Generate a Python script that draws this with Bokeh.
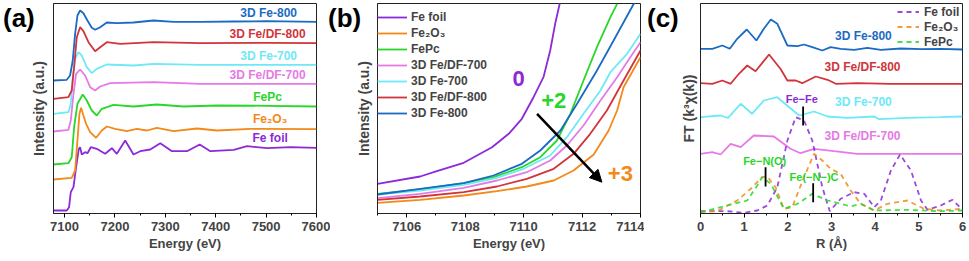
from bokeh.plotting import figure
from bokeh.models import (ColumnDataSource, Arrow, NormalHead, FixedTicker,
                          SingleIntervalTicker, Range1d, Div)
from bokeh.layouts import row
from bokeh.embed import file_html
from bokeh.resources import INLINE
from bokeh.core.properties import value

FONT = "Liberation Sans"

C_FOIL = "#8B2AD6"
C_FE2O3 = "#F2891A"
C_FEPC = "#2AD62A"
C_DF700 = "#E57AE6"
C_FE700 = "#6EE9F5"
C_DF800 = "#D1343A"
C_FE800 = "#1A6BC4"

# ---------------- panel (a): XANES, stacked ----------------
a_fe800_E = [7078, 7104.3, 7110.9, 7116.2, 7120.9, 7125.5, 7130.8, 7137.4, 7145.4, 7154.0, 7160.6, 7170.6, 7183.8, 7203.7, 7236.8, 7276.6, 7316.4, 7369.4, 7435.7, 7501.9, 7600]
a_fe800_I = [133, 133.7, 138, 153, 179.7, 198, 203, 200.3, 193, 185.7, 183.7, 186.3, 191, 190.3, 191, 193, 191.7, 191.7, 192, 192.3, 191.7]
a_df800_E = [7078, 7107.6, 7114.2, 7118.9, 7124.2, 7130.8, 7137.4, 7147.4, 7160.6, 7170.6, 7183.8, 7210.3, 7276.6, 7369.4, 7501.9, 7600]
a_df800_I = [114.7, 116.3, 123, 146.3, 176.3, 186.3, 182.3, 171.3, 162.3, 166.3, 171.3, 169.7, 171.3, 170.3, 170.7, 170.3]
a_fe700_E = [7078, 7107.6, 7112.3, 7116.2, 7120.9, 7127.5, 7134.1, 7144.1, 7154.0, 7163.9, 7183.8, 7236.8, 7276.6, 7369.4, 7600]
a_fe700_I = [99.7, 101.3, 109.7, 136.3, 154.7, 161.3, 158, 146.3, 140.3, 144.7, 149, 148, 149.7, 148.7, 148.7]
a_df700_E = [7078, 7107.6, 7112.3, 7117.6, 7122.9, 7130.8, 7140.8, 7150.7, 7160.6, 7170.6, 7190.5, 7276.6, 7369.4, 7600]
a_df700_I = [82, 83.7, 93, 119.7, 139.7, 144, 138, 126.3, 123, 127, 130.3, 131.3, 129.7, 129.7]
a_fepc_E = [7078, 7107.6, 7114.2, 7118.9, 7125.5, 7136.1, 7144.1, 7154.0, 7163.9, 7173.9, 7197.1, 7236.8, 7283.2, 7336.3, 7402.5, 7501.9, 7600]
a_fepc_I = [49, 50.3, 56.3, 86.3, 109.7, 119, 113, 103, 98, 104.7, 108.7, 107, 109, 107, 108, 107.7, 107]
a_fe2o3_E = [7078, 7114.2, 7120.9, 7125.5, 7129.5, 7132.8, 7137.4, 7142.7, 7150.7, 7162.6, 7173.9, 7183.8, 7200.4, 7223.6, 7243.5, 7263.4, 7283.2, 7316.4, 7362.8, 7402.5, 7468.8, 7600]
a_fe2o3_I = [34, 35.7, 43, 73, 99.7, 105.7, 98, 89.7, 81.3, 75.7, 83, 87, 84.7, 82.3, 84.7, 83, 85.7, 82.3, 85, 83, 84.7, 84.3]
a_foil_E = [7078, 7104.3, 7108.9, 7112.3, 7117.6, 7122.9, 7128.2, 7130.8, 7134.1, 7140.8, 7145.4, 7152.0, 7163.9, 7180.5, 7193.8, 7203.7, 7220.3, 7236.8, 7250.1, 7270.0, 7289.9, 7313.1, 7342.9, 7368.1, 7389.3, 7435.7, 7462.2, 7501.9, 7548.3, 7600]
a_foil_I = [3, 3, 6.3, 21.3, 26.3, 46.3, 64.7, 66.3, 59, 61.3, 60.3, 66.3, 64.7, 59.7, 65.3, 59.7, 73, 59, 62.3, 64, 70.3, 62.3, 62.3, 69, 62.3, 63.7, 67.3, 65.3, 66.3, 65.7]
a_label_text = ["3D Fe-800", "3D Fe/DF-800", "3D Fe-700", "3D Fe/DF-700", "FePc", "Fe\u2082O\u2083", "Fe foil"]
a_label_x = [7505, 7503, 7505, 7503, 7503, 7508, 7508]
a_label_y = [200.3, 179.7, 158, 139, 116.3, 94.7, 75.7]
a_label_color = [C_FE800, C_DF800, C_FE700, C_DF700, C_FEPC, C_FE2O3, C_FOIL]
a_ticks = [7100, 7200, 7300, 7400, 7500, 7600]

# ---------------- panel (b): edge zoom ----------------
b_foil_E = [7105, 7106.46, 7107.03, 7107.95, 7108.92, 7109.49, 7109.94, 7110.34, 7110.68, 7110.91, 7111.08, 7111.26]
b_foil_I = [29.7, 37, 42.3, 50.7, 66.3, 79.7, 94.7, 116.3, 136.3, 163, 189.7, 213]
b_fe2o3_E = [7105, 7106.46, 7107.95, 7109.09, 7110.11, 7111.03, 7111.71, 7112.40, 7112.91, 7113.20, 7113.42, 7113.71, 7114]
b_fe2o3_I = [10.7, 13.7, 18, 22.3, 27, 33, 43, 59, 83, 103, 126.3, 141.3, 156.3]
b_fepc_E = [7105, 7106.46, 7107.95, 7108.97, 7109.94, 7110.57, 7111.14, 7111.60, 7112.05, 7112.51, 7112.97, 7113.20]
b_fepc_I = [19.7, 24, 30.3, 36.3, 46.3, 56.3, 73, 99.7, 133, 166.3, 196.3, 209.7]
b_df700_E = [7105, 7106.46, 7107.95, 7109.09, 7110.11, 7110.91, 7111.48, 7112.05, 7112.63, 7113.20, 7113.65, 7114]
b_df700_I = [15.3, 19.7, 25.7, 33, 41.3, 53, 68, 88, 113, 136.3, 156.3, 171.3]
b_fe700_E = [7105, 7106.46, 7107.95, 7109.09, 7110.00, 7110.91, 7111.48, 7112.05, 7112.63, 7112.97, 7113.54, 7114]
b_fe700_I = [19, 23, 28.7, 35.7, 44.7, 58, 76.3, 99.7, 123, 141.3, 159.7, 179.7]
b_df800_E = [7105, 7106.46, 7107.95, 7109.09, 7110.11, 7111.03, 7111.71, 7112.28, 7112.85, 7113.42, 7114]
b_df800_I = [13.7, 17, 21.3, 27, 34.7, 44.7, 59.7, 79.7, 103, 133, 163]
b_fe800_E = [7105, 7106.46, 7107.95, 7108.97, 7109.94, 7110.57, 7111.26, 7111.83, 7112.51, 7113.08, 7113.77, 7113.9]
b_fe800_I = [19, 24.7, 30.3, 38, 49.7, 63, 83, 109.7, 143, 173, 209.7, 214]
b_ox_text = ["0", "+2", "+3"]
b_ox_x = [7109.83, 7111.03, 7113.31]
b_ox_y = [135, 113, 40]
b_ox_color = [C_FOIL, C_FEPC, C_FE2O3]
b_arrow_start = (7110.46, 99.7)
b_arrow_end = (7112.68, 31.3)
b_ticks = [7106, 7108, 7110, 7112, 7114]

# ---------------- panel (c): FT-EXAFS ----------------
c_fe800_R = [0, 0.27, 0.50, 0.67, 0.84, 1.06, 1.28, 1.45, 1.61, 1.76, 1.99, 2.22, 2.37, 2.56, 2.79, 2.98, 3.21, 3.52, 3.82, 4.13, 4.59, 5.05, 5.50, 6.0]
c_fe800_A = [164.7, 164.7, 168, 164.7, 174.7, 184, 173, 184.7, 194, 189.7, 168, 167.3, 169, 166.3, 163, 166.3, 164.7, 163.7, 165.7, 163.7, 165, 164.3, 164.7, 164]
c_df800_R = [0, 0.27, 0.50, 0.69, 0.88, 1.07, 1.26, 1.57, 1.83, 1.99, 2.18, 2.33, 2.64, 2.91, 3.10, 3.59, 4.36, 6.0]
c_df800_A = [130.3, 129.7, 133, 129.7, 139.7, 148, 142.3, 159, 144.7, 133, 133, 130.3, 137, 133.7, 129.7, 130.3, 129.7, 129.7]
c_fe700_R = [0, 0.46, 0.63, 0.92, 1.18, 1.45, 1.76, 2.03, 2.26, 2.60, 2.91, 3.36, 3.98, 4.09, 4.74, 5.50, 6.0]
c_fe700_A = [96.3, 98, 95.7, 109.7, 99.7, 113, 116.3, 106.3, 98, 102, 97, 95.7, 97, 94.3, 95.7, 96.3, 97]
c_df700_R = [0, 0.27, 0.46, 0.69, 0.92, 1.22, 1.68, 2.06, 2.29, 2.60, 3.06, 3.59, 4.74, 6.0]
c_df700_A = [59.7, 61.3, 59, 69.7, 66.3, 78, 77, 64.7, 60.3, 64.7, 62.3, 59.7, 59.7, 59.7]
c_foil_R = [0, 0.61, 0.99, 1.30, 1.53, 1.76, 1.99, 2.18, 2.37, 2.56, 2.79, 2.96, 3.21, 3.52, 3.75, 3.98, 4.13, 4.36, 4.57, 4.82, 5.05, 5.20, 5.50, 5.77, 6.0]
c_foil_A = [2.3, 2.3, 0.7, 3, 8, 26.3, 73, 96.3, 93, 73, 26.3, 2.3, 14.7, 21.3, 19.7, 6.3, 13, 43, 59, 43, 13, 3.7, 8, 13.7, 3.7]
c_fe2o3_R = [0, 0.38, 0.84, 1.15, 1.41, 1.53, 1.72, 1.91, 2.10, 2.37, 2.60, 2.79, 2.98, 3.21, 3.44, 3.67, 3.98, 4.28, 4.74, 5.12, 5.50, 6.0]
c_fe2o3_A = [1.3, 2.3, 13, 24.7, 36.3, 37, 26.3, 4.7, 6.3, 36.3, 59.7, 53, 44.7, 39.7, 23, 9.7, 3, 9.7, 13, 4.7, 3, 4.7]
c_fepc_R = [0, 0.61, 1.07, 1.30, 1.41, 1.61, 1.91, 2.22, 2.56, 2.91, 3.21, 3.44, 3.67, 3.98, 4.74, 5.50, 6.0]
c_fepc_A = [1.3, 8, 13, 28, 36.3, 29.7, 4.7, 9.7, 19.7, 13, 9.7, 7, 9.7, 3, 3.7, 2.3, 3]
c_label_text = ["3D Fe-800", "3D Fe/DF-800", "3D Fe-700", "3D Fe/DF-700"]
c_label_x = [3.73, 3.71, 3.73, 3.71]
c_label_y = [178, 146.3, 111.3, 78]
c_label_color = [C_FE800, C_DF800, C_FE700, C_DF700]
c_path_text = ["Fe\u2212Fe", "Fe\u2212N(O)", "Fe(\u2212N\u2212)C"]
c_path_x = [2.32, 1.47, 2.60]
c_path_y = [114.7, 53, 36.3]
c_path_color = [C_FOIL, C_FEPC, C_FEPC]
c_mark_x = [2.35, 1.49, 2.58]
c_mark_top = [107, 46.3, 30.3]
c_mark_bottom = [88, 27, 11.3]
c_ticks = [0, 1, 2, 3, 4, 5, 6]

panel_tags = ["(a)", "(b)", "(c)"]

H = 260
LW = 1.8


def base_fig(width, left, right, xr, ticks, xlabel, ylabel, ystand):
    p = figure(width=width, height=H, output_backend="svg", toolbar_location=None,
               x_range=Range1d(*xr), y_range=Range1d(0, 210),
               min_border_left=left, min_border_right=right, min_border_top=3,
               min_border_bottom=47)
    p.xgrid.visible = False
    p.ygrid.visible = False
    p.outline_line_color = "#222222"
    p.outline_line_width = 1
    p.background_fill_color = "white"
    p.border_fill_color = "white"
    xa = p.xaxis[0]
    xa.ticker = SingleIntervalTicker(interval=ticks[1] - ticks[0], num_minor_ticks=2)
    xa.axis_label = xlabel
    xa.axis_label_text_font = FONT
    xa.axis_label_text_font_style = "bold"
    xa.axis_label_text_font_size = "13px"
    xa.axis_label_standoff = 2
    xa.major_label_text_font = FONT
    xa.major_label_text_font_style = "bold"
    xa.major_label_text_font_size = "13px"
    xa.major_label_standoff = 4
    xa.major_tick_in = 0
    xa.major_tick_out = 4
    xa.minor_tick_in = 0
    xa.minor_tick_out = 2
    xa.axis_line_color = "#222222"
    ya = p.yaxis[0]
    ya.ticker = FixedTicker(ticks=[])
    ya.axis_label = ylabel
    ya.axis_label_text_font = FONT
    ya.axis_label_text_font_style = "bold"
    ya.axis_label_text_font_size = "14px"
    ya.axis_label_standoff = ystand
    ya.major_label_standoff = 0
    ya.major_tick_out = 0
    ya.major_tick_in = 0
    ya.minor_tick_out = 0
    ya.minor_tick_in = 0
    ya.axis_line_color = "#222222"
    return p


def tag_div(txt, left):
    return Div(text=txt, width=40, height=30,
               styles={"position": "absolute", "left": f"{left}px", "top": "3px",
                       "font-family": FONT, "font-weight": "bold", "font-size": "26px",
                       "line-height": "30px", "color": "black", "margin": "0",
                       "z-index": "10"})


# ----- figure a -----
pa = base_fig(330, 53, 14, (7078, 7600), a_ticks, "Energy (eV)", "Intensity (a.u.)", 7)
for E, I, c in [(a_foil_E, a_foil_I, C_FOIL), (a_fe2o3_E, a_fe2o3_I, C_FE2O3),
                (a_fepc_E, a_fepc_I, C_FEPC), (a_df700_E, a_df700_I, C_DF700),
                (a_fe700_E, a_fe700_I, C_FE700), (a_df800_E, a_df800_I, C_DF800),
                (a_fe800_E, a_fe800_I, C_FE800)]:
    pa.line(E, I, line_color=c, line_width=LW)
pa.text(x="x", y="y", text="t", text_color="c",
        source=ColumnDataSource(dict(x=a_label_x, y=a_label_y, t=a_label_text, c=a_label_color)),
        text_font=value(FONT), text_font_style="bold", text_font_size="12px",
        text_align="center", text_baseline="middle")

# ----- figure b -----
pb = base_fig(314, 47, 4, (7105, 7114), b_ticks, "Energy (eV)", "Intensity (a.u.)", 6)
for E, I, c, lab in [(b_foil_E, b_foil_I, C_FOIL, "Fe foil"),
                     (b_fe2o3_E, b_fe2o3_I, C_FE2O3, "Fe\u2082O\u2083"),
                     (b_fepc_E, b_fepc_I, C_FEPC, "FePc"),
                     (b_df700_E, b_df700_I, C_DF700, "3D Fe/DF-700"),
                     (b_fe700_E, b_fe700_I, C_FE700, "3D Fe-700"),
                     (b_df800_E, b_df800_I, C_DF800, "3D Fe/DF-800"),
                     (b_fe800_E, b_fe800_I, C_FE800, "3D Fe-800")]:
    pb.line(E, I, line_color=c, line_width=LW, legend_label=lab)
lg = pb.legend[0]
lg.location = (0, 92)
lg.border_line_color = None
lg.background_fill_alpha = 0
lg.margin = 0
lg.padding = 7
lg.spacing = 0
lg.label_height = 16
lg.glyph_height = 16
lg.glyph_width = 30
lg.label_standoff = 4
lg.label_text_font = FONT
lg.label_text_font_style = "bold"
lg.label_text_font_size = "12px"
pb.text(x="x", y="y", text="t", text_color="c",
        source=ColumnDataSource(dict(x=b_ox_x, y=b_ox_y, t=b_ox_text, c=b_ox_color)),
        text_font=value(FONT), text_font_style="bold", text_font_size="22px",
        text_align="center", text_baseline="middle")
pb.add_layout(Arrow(x_start=b_arrow_start[0], y_start=b_arrow_start[1],
                    x_end=b_arrow_end[0], y_end=b_arrow_end[1],
                    line_color="black", line_width=2.5,
                    end=NormalHead(size=12, fill_color="black", line_color="black")))

# ----- figure c -----
pc = base_fig(323, 56, 5, (0, 6), c_ticks, "R (\u00c5)", "FT (k\u00b3\u03c7(k))", 4)
for R, A, c in [(c_df700_R, c_df700_A, C_DF700), (c_fe700_R, c_fe700_A, C_FE700),
                (c_df800_R, c_df800_A, C_DF800), (c_fe800_R, c_fe800_A, C_FE800)]:
    pc.line(R, A, line_color=c, line_width=LW)
for R, A, c, lab in [(c_foil_R, c_foil_A, C_FOIL, "Fe foil"),
                     (c_fe2o3_R, c_fe2o3_A, C_FE2O3, "Fe\u2082O\u2083"),
                     (c_fepc_R, c_fepc_A, C_FEPC, "FePc")]:
    pc.line(R, A, line_color=c, line_width=1.8, line_dash="5 4", line_alpha=0.85,
            legend_label=lab)
lc = pc.legend[0]
lc.location = (197, 164)
lc.border_line_color = None
lc.background_fill_alpha = 0
lc.margin = 0
lc.padding = 2
lc.spacing = 0
lc.label_height = 15
lc.glyph_height = 15
lc.glyph_width = 22
lc.label_standoff = 5
lc.label_text_font = FONT
lc.label_text_font_style = "bold"
lc.label_text_font_size = "12px"
pc.text(x="x", y="y", text="t", text_color="c",
        source=ColumnDataSource(dict(x=c_label_x, y=c_label_y, t=c_label_text, c=c_label_color)),
        text_font=value(FONT), text_font_style="bold", text_font_size="12px",
        text_align="center", text_baseline="middle")
pc.text(x="x", y="y", text="t", text_color="c",
        source=ColumnDataSource(dict(x=c_path_x, y=c_path_y, t=c_path_text, c=c_path_color)),
        text_font=value(FONT), text_font_style="bold", text_font_size="11px",
        text_align="center", text_baseline="middle")
pc.segment(x0=c_mark_x, y0=c_mark_bottom, x1=c_mark_x, y1=c_mark_top,
           line_color="black", line_width=1.8)

tags = [tag_div(panel_tags[0], 3), tag_div(panel_tags[1], 328), tag_div(panel_tags[2], 647)]
layout = row(pa, pb, pc, *tags)
open("out.html", "w").write(file_html(layout, INLINE))
